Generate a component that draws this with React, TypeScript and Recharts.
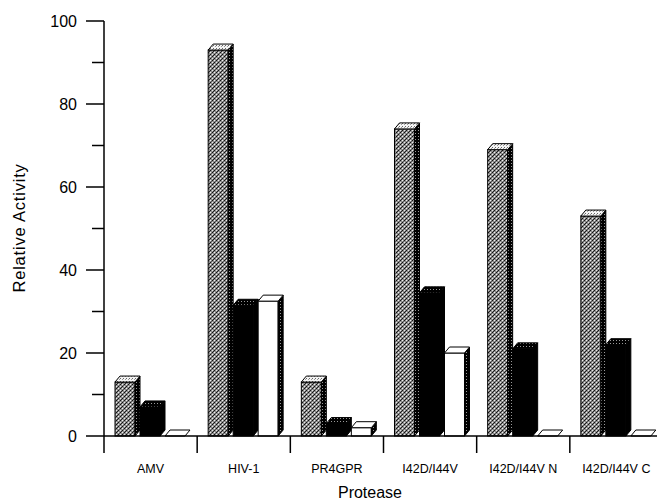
import React from 'react';
import { BarChart, Bar, XAxis, YAxis, Label } from 'recharts';

const categories = ['AMV', 'HIV-1', 'PR4GPR', 'I42D/I44V', 'I42D/I44V N', 'I42D/I44V C'];
const graySeries = [13, 93, 13, 74, 69, 53];
const blackSeries = [7, 31.5, 3, 34.5, 21, 22];
const whiteSeries = [0, 32.5, 2, 20, 0, 0];
const yTicks = [0, 10, 20, 30, 40, 50, 60, 70, 80, 90, 100];

const data = categories.map((c, i) => ({
  name: c,
  gray: graySeries[i],
  black: blackSeries[i],
  white: whiteSeries[i],
}));

const DX = 5;
const DY = 6;
const SHIFT = 2;
const FONT = '"Liberation Sans", Arial, Helvetica, sans-serif';
const PLOT_LEFT = 104;
const PLOT_RIGHT = 663;
const BAND = (PLOT_RIGHT - PLOT_LEFT) / categories.length;

const make3D = (front: string, top: string, side: string) => (props: any) => {
  const { x, y, width, height } = props;
  if (x == null || y == null) return <g />;
  const x0 = x + SHIFT;
  const w = width;
  const fw = w - DX;
  const h = Math.max(0, height);
  const topPts = `${x0},${y} ${x0 + DX},${y - DY} ${x0 + w},${y - DY} ${x0 + fw},${y}`;
  const sidePts = `${x0 + fw},${y} ${x0 + w},${y - DY} ${x0 + w},${y + h - DY} ${x0 + fw},${y + h}`;
  return (
    <g>
      {h > 0 && <rect x={x0} y={y} width={fw} height={h} fill={front} stroke="#000" strokeWidth={1} />}
      {h > 0 && <polygon points={sidePts} fill={side} stroke="#000" strokeWidth={1} />}
      <polygon points={topPts} fill={top} stroke="#000" strokeWidth={1} />
    </g>
  );
};

const GrayShape = make3D('url(#stipple)', 'url(#lightDots)', 'url(#darkDots)');
const BlackShape = make3D('#000', 'url(#darkDots)', '#000');
const WhiteShape = make3D('#fff', '#fff', 'url(#darkDots)');

const YTick = (props: any) => {
  const { y, payload } = props;
  const major = payload.value % 20 === 0;
  return (
    <g>
      <line x1={PLOT_LEFT - (major ? 18 : 12)} x2={PLOT_LEFT} y1={y} y2={y} stroke="#000" strokeWidth={1.5} />
      {major && (
        <text x={PLOT_LEFT - 27} y={y} dy="0.36em" textAnchor="end" fontSize={16} fontFamily={FONT} fill="#000">
          {payload.value}
        </text>
      )}
    </g>
  );
};

const XTick = (props: any) => {
  const { x, y, payload } = props;
  const left = x - BAND / 2;
  return (
    <g>
      <line x1={left} x2={left} y1={y} y2={y + 17} stroke="#000" strokeWidth={1.5} />
      <text x={x} y={y + 37} textAnchor="middle" fontSize={12.5} fontFamily={FONT} fill="#000">
        {payload.value}
      </text>
    </g>
  );
};

export default function App() {
  return (
    <div style={{ position: 'absolute', left: 0, top: 0, width: 657, height: 501, overflow: 'hidden', background: '#fff' }}>
      <BarChart
        width={670}
        height={501}
        data={data}
        margin={{ top: 21, right: 670 - PLOT_RIGHT, bottom: 25, left: 0 }}
        barGap={0}
        barSize={25}
      >
        <defs>
          <pattern id="stipple" width="4" height="4" patternUnits="userSpaceOnUse">
            <rect width="4" height="4" fill="#8e8e8e" />
            <rect x="0" y="0" width="1" height="1" fill="#111" />
            <rect x="2" y="2" width="1" height="1" fill="#111" />
            <rect x="1" y="3" width="1" height="1" fill="#222" />
            <rect x="2" y="0" width="1" height="1" fill="#f0f0f0" />
            <rect x="0" y="2" width="1" height="1" fill="#e8e8e8" />
            <rect x="3" y="1" width="1" height="1" fill="#555" />
          </pattern>
          <pattern id="lightDots" width="3" height="3" patternUnits="userSpaceOnUse">
            <rect width="3" height="3" fill="#f4f4f4" />
            <rect x="0" y="0" width="1" height="1" fill="#666" />
            <rect x="2" y="1" width="1" height="1" fill="#999" />
          </pattern>
          <pattern id="darkDots" width="3" height="3" patternUnits="userSpaceOnUse">
            <rect width="3" height="3" fill="#000" />
            <rect x="1" y="1" width="1" height="1" fill="#999" />
          </pattern>
        </defs>
        <XAxis
          dataKey="name"
          height={40}
          tickSize={0}
          tickMargin={0}
          tickLine={false}
          interval={0}
          axisLine={{ stroke: '#000', strokeWidth: 1.5 }}
          tick={<XTick />}
        >
          <Label
            content={() => (
              <text x={370} y={498} textAnchor="middle" fontSize={16} fontFamily={FONT} fill="#000">
                Protease
              </text>
            )}
          />
        </XAxis>
        <YAxis
          width={PLOT_LEFT}
          domain={[0, 100]}
          ticks={yTicks}
          interval={0}
          tickSize={0}
          tickMargin={0}
          tickLine={false}
          axisLine={{ stroke: '#000', strokeWidth: 1.5 }}
          tick={<YTick />}
        >
          <Label
            content={() => (
              <text
                x={25}
                y={228}
                transform="rotate(-90 25 228)"
                textAnchor="middle"
                fontSize={16.5}
                letterSpacing={0.8}
                fontFamily={FONT}
                fill="#000"
              >
                Relative Activity
              </text>
            )}
          />
        </YAxis>
        <Bar dataKey="gray" shape={<GrayShape />} isAnimationActive={false} />
        <Bar dataKey="black" shape={<BlackShape />} isAnimationActive={false} />
        <Bar dataKey="white" shape={<WhiteShape />} isAnimationActive={false} />
      </BarChart>
    </div>
  );
}
